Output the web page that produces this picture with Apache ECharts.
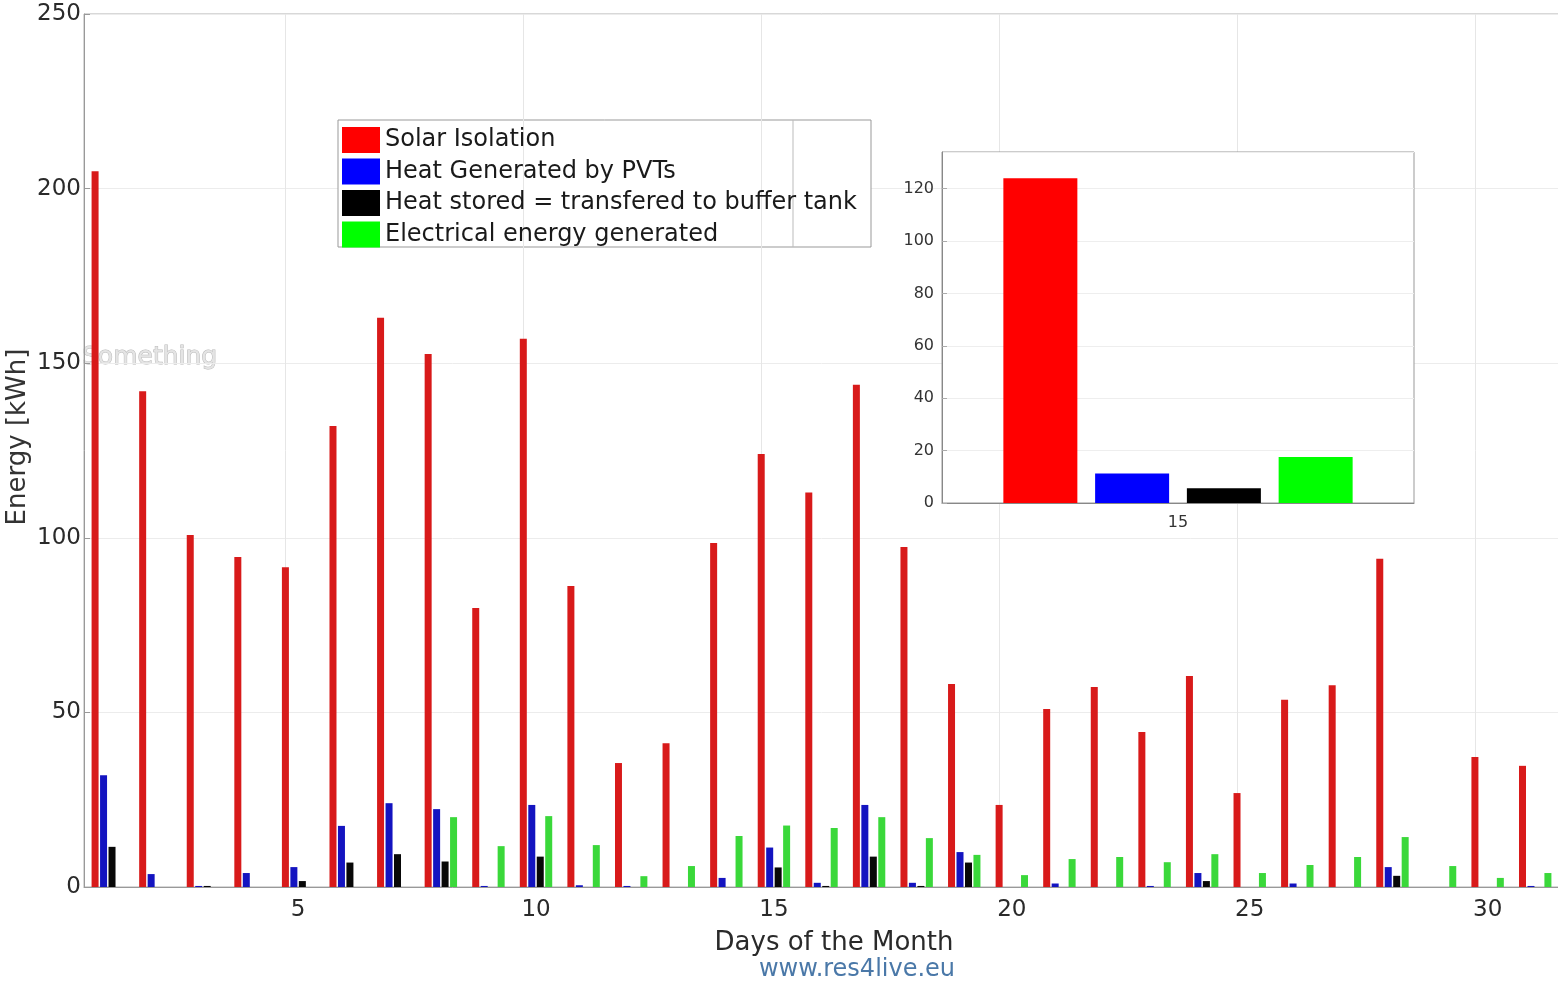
<!DOCTYPE html>
<html>
<head>
<meta charset="utf-8">
<script src="https://cdn.jsdelivr.net/npm/echarts@6/dist/echarts.min.js"></script>
<style>html,body{margin:0;padding:0;background:#fff;}#c{width:1558px;height:985px;}</style>
</head>
<body>
<div id="c"></div>
<script>
const days = ['1','2','3','4','5','6','7','8','9','10','11','12','13','14','15','16','17','18','19','20','21','22','23','24','25','26','27','28','29','30','31'];
const tickDays = ['5','10','15','20','25','30'];
const solar = [205,142,100.8,94.5,91.6,132,163,152.6,79.9,157,86.2,35.5,41.2,98.5,124,113,143.8,97.4,58.1,23.5,51,57.3,44.4,60.4,26.9,53.6,57.8,94,0,37.2,34.7];
const heatGen = [32,3.7,0.3,4,5.7,17.5,24,22.3,0.3,23.5,0.5,0.3,0,2.6,11.3,1.2,23.5,1.2,10,0,1,0,0.3,4,0,1,0,5.7,0,0,0.3];
const heatStored = [11.5,0,0.3,0,1.7,7,9.4,7.3,0,8.7,0,0,0,0,5.6,0.3,8.7,0.3,7,0,0,0,0,1.7,0,0,0,3.2,0,0,0];
const elec = [0,0,0,0,0,0,0,20,11.7,20.3,12,3.1,6,14.6,17.6,16.9,20,14,9.2,3.4,8,8.6,7.1,9.4,4,6.3,8.6,14.3,6,2.6,4];
const seriesNames = ['Solar Isolation','Heat Generated by PVTs','Heat stored = transfered to buffer tank','Electrical energy generated'];
const insetDay = '15';

const mainColors = ['#d81a1a','#1414c0','#080808','#3ad83a'];
const pureColors = ['#ff0000','#0000ff','#000000','#00ff00'];
const mainData = [solar, heatGen, heatStored, elec];
const insetIdx = days.indexOf(insetDay);

const chart = echarts.init(document.getElementById('c'), null, {renderer:'canvas'});
const FONT = 'DejaVu Sans';

const series = [];
mainData.forEach((d, i) => {
  const s = {
    name: seriesNames[i], type: 'bar', xAxisIndex: 0, yAxisIndex: 0,
    data: d, barWidth: 7, barGap: '21%', z: 3,
    itemStyle: {color: mainColors[i]},
    animation: false
  };
  if (i === 0) {
    s.markLine = {
      silent: true, symbol: ['none','none'], animation: false, z: 1,
      label: {show: false},
      lineStyle: {color: '#e6e6e6', width: 1, type: 'solid'},
      data: tickDays.map(t => ({xAxis: t}))
    };
  }
  series.push(s);
});
mainData.forEach((d, i) => {
  series.push({
    name: seriesNames[i], type: 'bar', xAxisIndex: 1, yAxisIndex: 1,
    data: [d[insetIdx]], barWidth: 74, barGap: '24%', z: 10,
    itemStyle: {color: pureColors[i]},
    animation: false
  });
});

chart.setOption({
  animation: false,
  textStyle: {fontFamily: FONT},
  grid: [
    {left: 84, top: 14, width: 1475, height: 873, show: true, borderColor: '#b0b0b0', borderWidth: 1, containLabel: false, outerBoundsMode: 'none'},
    {left: 942, top: 152, width: 472, height: 351, show: true, backgroundColor: '#ffffff', borderColor: '#999999', borderWidth: 1, z: 5, containLabel: false, outerBoundsMode: 'none'}
  ],
  xAxis: [
    {type: 'category', gridIndex: 0, data: days,
     axisLine: {show: true, lineStyle: {color: '#999'}},
     axisTick: {show: false},
     axisLabel: {interval: (idx, v) => tickDays.indexOf(v) >= 0, fontSize: 23, color: '#2a2a2a', margin: 12, fontFamily: FONT},
     splitLine: {show: false}},
    {type: 'category', gridIndex: 1, data: [insetDay], z: 6,
     axisLine: {show: true, lineStyle: {color: '#888'}},
     axisTick: {show: false},
     axisLabel: {fontSize: 16, color: '#333', margin: 12, fontFamily: FONT},
     splitLine: {show: false}}
  ],
  yAxis: [
    {type: 'value', gridIndex: 0, min: 0, max: 250, interval: 50,
     axisLine: {show: true, lineStyle: {color: '#999'}},
     axisTick: {show: true, inside: true, length: 6, lineStyle: {color: '#999'}},
     axisLabel: {fontSize: 23, color: '#2a2a2a', margin: 3, fontFamily: FONT},
     splitLine: {show: true, lineStyle: {color: '#ececec', width: 1}}},
    {type: 'value', gridIndex: 1, min: 0, max: 134, interval: 20, z: 6,
     axisLine: {show: true, lineStyle: {color: '#888'}},
     axisTick: {show: true, inside: true, length: 5, lineStyle: {color: '#aaa'}},
     axisLabel: {fontSize: 16, color: '#333', margin: 8, showMaxLabel: false, fontFamily: FONT},
     splitLine: {show: true, lineStyle: {color: '#eeeeee', width: 1}}}
  ],
  legend: {
    left: 337, top: 122, orient: 'vertical', itemWidth: 38, itemHeight: 26, itemGap: 5.5,
    icon: 'rect', selectedMode: false,
    textStyle: {fontSize: 24, color: '#1a1a1a', fontFamily: FONT},
    data: seriesNames.map((n, i) => ({name: n, itemStyle: {color: pureColors[i], borderWidth: 0}}))
  },
  graphic: [
    {type: 'rect', shape: {x: 338, y: 120, width: 533, height: 127}, style: {fill: '#fff', stroke: '#999', lineWidth: 1}, z: 1, silent: true},
    {type: 'line', shape: {x1: 793, y1: 120, x2: 793, y2: 247}, style: {stroke: '#bbb', lineWidth: 1}, z: 2, silent: true},
    {type: 'text', x: 82, y: 357, style: {text: 'Something', fontSize: 25, fontFamily: FONT, fill: '#e4e4e4', stroke: '#b8b8b8', lineWidth: 1, textVerticalAlign: 'middle', textAlign: 'left'}, z: 0, silent: true},
    {type: 'text', x: 18, y: 437, rotation: Math.PI / 2, style: {text: 'Energy [kWh]', fontSize: 26, fontFamily: FONT, fill: '#333', textAlign: 'center', textVerticalAlign: 'middle'}, silent: true},
    {type: 'text', x: 834, y: 943, style: {text: 'Days of the Month', fontSize: 26, fontFamily: FONT, fill: '#2a2a2a', textAlign: 'center', textVerticalAlign: 'middle'}, silent: true},
    {type: 'text', x: 857, y: 970, style: {text: 'www.res4live.eu', fontSize: 24, fontFamily: FONT, fill: '#4a78a8', textAlign: 'center', textVerticalAlign: 'middle'}, silent: true}
  ],
  series: series
});
</script>
</body>
</html>
